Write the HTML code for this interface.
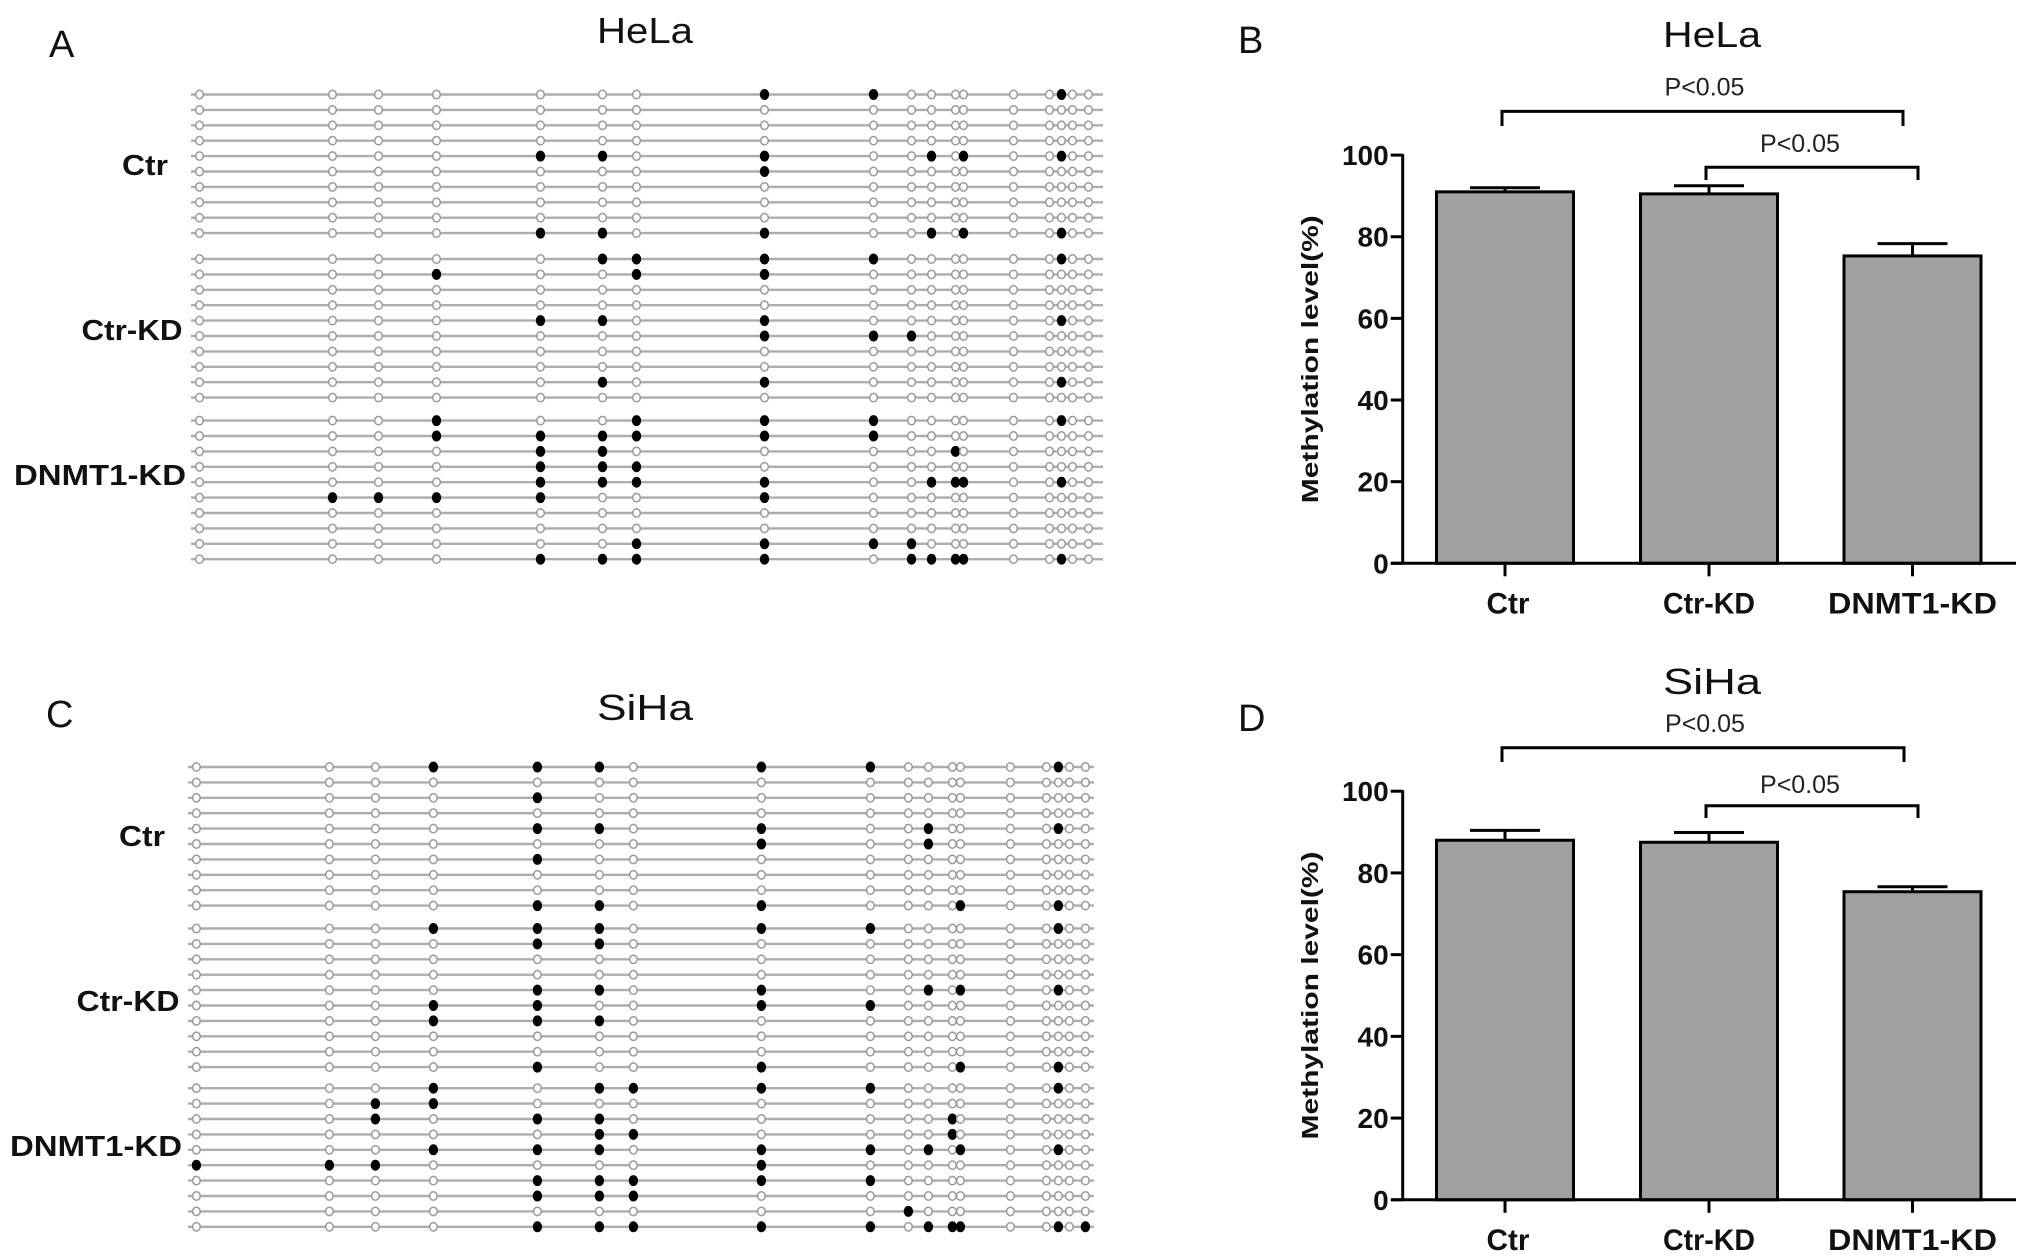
<!DOCTYPE html>
<html><head><meta charset="utf-8"><style>
html,body{margin:0;padding:0;background:#fff}
svg{display:block}
text{font-family:"Liberation Sans",Arial,sans-serif}
</style></head><body>
<svg id="fig" xmlns="http://www.w3.org/2000/svg" width="2031" height="1259" viewBox="0 0 2031 1259">
<rect width="2031" height="1259" fill="#fff"/>
</svg>
<script>
// ---------- DATA ----------
const groups = ["Ctr", "Ctr-KD", "DNMT1-KD"];
// methylated CpG site indices (0..17) per clone, HeLa
const helaCtr = [[7,8,15],[],[],[],[4,5,7,10,12,15],[7],[],[],[],[4,5,7,10,12,15]];
const helaCtrKD = [[5,6,7,8,15],[3,6,7],[],[],[4,5,7,15],[7,8,9],[],[],[5,7,15],[]];
const helaDNMT1 = [[3,6,7,8,15],[3,4,5,6,7,8],[4,5,11],[4,5,6],[4,5,6,7,10,11,12,15],[1,2,3,4,7],[],[],[6,7,8,9],[4,5,6,7,9,10,11,12,15]];
// SiHa
const sihaCtr = [[3,4,5,7,8,15],[],[4],[],[4,5,7,10,15],[7,10],[4],[],[],[4,5,7,12,15]];
const sihaCtrKD = [[3,4,5,7,8,15],[4,5],[],[],[4,5,7,10,12,15],[3,4,7,8],[3,4,5],[],[],[4,7,12,15]];
const sihaDNMT1 = [[3,5,6,7,8,15],[2,3],[2,4,5,11],[5,6,11],[3,4,5,7,8,10,12,15],[0,1,2,7],[4,5,6,7,8],[4,5,6],[9],[4,5,6,7,8,10,11,12,15,17]];
// relative CpG site positions along the amplicon
const cpgPos = [0,133,179,237,341,403,437,565,674,712,732,756,764,814,850,862,873,889];
// bar chart values
const helaMeans = [91.0, 90.5, 75.3];
const helaErr = [1.0, 2.0, 3.0];
const sihaMeans = [88.0, 87.5, 75.4];
const sihaErr = [2.4, 2.4, 1.2];
const yTicks = [0, 20, 40, 60, 80, 100];
const pLabels = ["P<0.05", "P<0.05"];

// ---------- HELPERS ----------
const NS = "http://www.w3.org/2000/svg";
const svg = document.getElementById("fig");
function mk(tag, attrs, parent) {
  const e = document.createElementNS(NS, tag);
  for (const k in attrs) e.setAttribute(k, attrs[k]);
  (parent || svg).appendChild(e);
  return e;
}
function txt(str, attrs, parent) { const t = mk("text", attrs, parent); t.textContent = str; return t; }

// ---------- LOLLIPOP PANELS ----------
function lollipop(panel, x0, lineStart, lineEnd, groupData, rowStarts, labelPos, title, letter) {
  const g = mk("g", {});
  
  
  const pl = txt(letter, {x: letter === "A" ? 49 : 46, y: letter === "A" ? 57 : 727, "font-size": 38, fill: "#111"}, g);
  
  
  const tt = txt(title, {x: 645, y: letter === "A" ? 43 : 720, "font-size": 36, "text-anchor": "middle", fill: "#111", textLength: 96, lengthAdjust: "spacingAndGlyphs"}, g);
  
  
  const xs = i => x0 + cpgPos[i];
  groupData.forEach((rows, gi) => {
    const gg = mk("g", {}, g);
    
    
    const lp = labelPos[gi];
    const lab = txt(groups[gi], {x: lp[0], y: lp[1], "font-size": 29, "font-weight": "bold", "text-anchor": "middle", fill: "#111", textLength: lp[2], lengthAdjust: "spacingAndGlyphs"}, gg);
    
    
    rows.forEach((meth, ri) => {
      const y = rowStarts[gi] + ri * 15.4;
      const ln = mk("line", {x1: lineStart, x2: lineEnd, y1: y, y2: y, stroke: "#adadad", "stroke-width": 2.4}, gg);
      
      
      cpgPos.forEach((p, ci) => {
        const filled = meth.indexOf(ci) >= 0;
        const c = mk("ellipse", {cx: xs(ci), cy: y, rx: filled ? 4.2 : 3.8, ry: filled ? 5 : 4.2,
          fill: filled ? "#000" : "#fff", stroke: filled ? "#000" : "#9a9a9a", "stroke-width": filled ? 1 : 1.5}, gg);
        
        
      });
    });
  });
}
lollipop("a", 199.5, 191, 1103, [helaCtr, helaCtrKD, helaDNMT1], [94.5, 259, 420.6],
  [[145, 175, 46], [132, 340, 101], [100, 485, 172]], "HeLa", "A");
lollipop("c", 196.4, 188, 1094, [sihaCtr, sihaCtrKD, sihaDNMT1], [767, 928.5, 1088.2],
  [[142, 846, 46], [128, 1011, 103], [96, 1156, 172]], "SiHa", "C");

// ---------- BAR PANELS ----------
function barPanel(panel, y0, y100, means, errs, title, letter, br1, br2) {
  const g = mk("g", {});
  
  
  const axX = 1402.7, xEnd = 2016;
  const centers = [1505, 1709, 1912.5];
  const labW = [43, 92, 169];
  const bw = 137;
  const yS = v => y0 - (v / 100) * (y0 - y100);
  const pl = txt(letter, {x: 1238, y: letter === "B" ? 53 : 731, "font-size": 38, fill: "#111"}, g);
  
  
  const tt = txt(title, {x: 1712, y: letter === "B" ? 47 : 694, "font-size": 36, "text-anchor": "middle", fill: "#111", textLength: 98, lengthAdjust: "spacingAndGlyphs"}, g);
  
  
  const ya = mk("line", {x1: axX, x2: axX, y1: y100 - 1, y2: y0, stroke: "#000", "stroke-width": 3}, g);
  
  
  yTicks.forEach(t => {
    const tk = mk("line", {x1: axX - 12, x2: axX, y1: yS(t), y2: yS(t), stroke: "#000", "stroke-width": 3}, g);
    
    
    const tl = txt(String(t), {x: axX - 14, y: yS(t) + 10, "font-size": 28, "font-weight": "bold", "text-anchor": "end", fill: "#111"}, g);
    
    
  });
  const yl = txt("Methylation level(%)", {x: 0, y: 0, "font-size": 23, "font-weight": "bold", "text-anchor": "middle", fill: "#111",
    textLength: 288, lengthAdjust: "spacingAndGlyphs", transform: "translate(1318," + ((y0 + y100) / 2) + ") rotate(-90)"}, g);
  
  
  means.forEach((m, i) => {
    const b = mk("rect", {x: centers[i] - bw / 2, y: yS(m), width: bw, height: y0 - yS(m), fill: "#a0a0a0", stroke: "#000", "stroke-width": 3}, g);
    
    
    const e1 = mk("line", {x1: centers[i], x2: centers[i], y1: yS(m), y2: yS(m + errs[i]), stroke: "#000", "stroke-width": 3}, g);
    
    
    const e2 = mk("line", {x1: centers[i] - 35, x2: centers[i] + 35, y1: yS(m + errs[i]), y2: yS(m + errs[i]), stroke: "#000", "stroke-width": 3}, g);
    
    
    const xt = mk("line", {x1: centers[i], x2: centers[i], y1: y0, y2: y0 + 13, stroke: "#000", "stroke-width": 3}, g);
    
    
    const xl = txt(groups[i], {x: centers[i] + (i === 0 ? 3 : 0), y: y0 + 50, "font-size": 30, "font-weight": "bold", "text-anchor": "middle", fill: "#111", textLength: labW[i], lengthAdjust: "spacingAndGlyphs"}, g);
    
    
  });
  const xa = mk("line", {x1: 1391, x2: xEnd, y1: y0, y2: y0, stroke: "#000", "stroke-width": 3}, g);
  
  
  [br1, br2].forEach((b, k) => {
    const p = mk("path", {d: "M" + b[0] + "," + b[3] + " V" + b[2] + " H" + b[1] + " V" + b[3], fill: "none", stroke: "#000", "stroke-width": 3}, g);
    
    
    const t = txt(pLabels[k], {x: (b[0] + b[1]) / 2 + (k === 1 ? -12 : 2), y: b[4], "font-size": 25, "text-anchor": "middle", fill: "#222"}, g);
    
    
  });
}
barPanel("b", 563.3, 155.1, helaMeans, helaErr, "HeLa", "B",
  [1502, 1903, 111.4, 126, 95.5], [1706, 1918, 167.3, 180, 152]);
barPanel("d", 1199.8, 791.2, sihaMeans, sihaErr, "SiHa", "D",
  [1502, 1904, 747.8, 762, 732], [1706, 1918, 805.8, 818, 793]);
</script>
</body></html>
